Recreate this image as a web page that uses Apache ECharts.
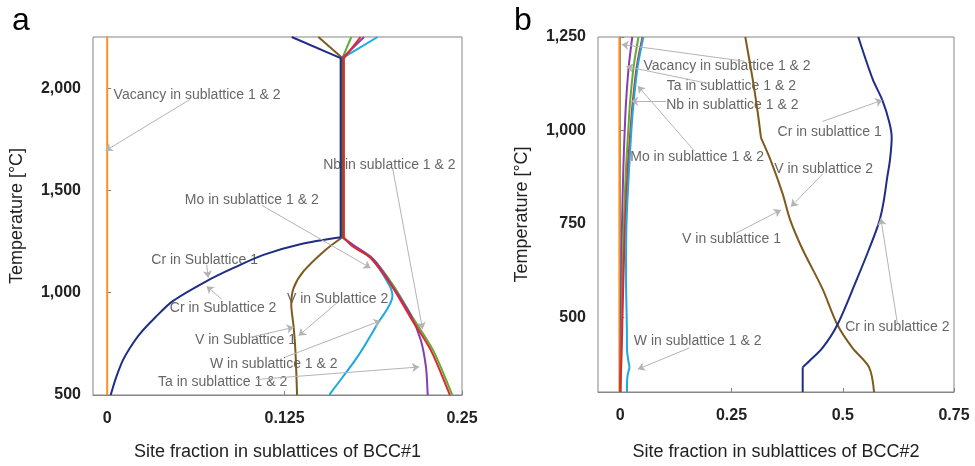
<!DOCTYPE html>
<html>
<head>
<meta charset="utf-8">
<script src="https://cdn.jsdelivr.net/npm/echarts@6/dist/echarts.min.js"></script>
<style>
  html, body { margin: 0; padding: 0; background: #fff; }
  #chart { width: 975px; height: 466px; }
</style>
</head>
<body>
<div id="chart"></div>
<script>
// ---- panel a: BCC#1, [site fraction, temperature] ----
const xTicksA = [0, 0.125, 0.25]
const yTicksA = [500, 1000, 1500, 2000]
const vacA = [[0, 500], [0, 2250]]
const crA = [[0.130, 2250], [0.1645, 2147], [0.1645, 1271], [0.136, 1237], [0.1101, 1185], [0.089, 1121], [0.0701, 1057],
  [0.0464, 960], [0.034, 880], [0.0229, 798], [0.016, 730], [0.0110, 669], [0.006, 580], [0.0028, 508], [0.0024, 500]]
const vA = [[0.1488, 2250], [0.1657, 2147], [0.1657, 1271], [0.1526, 1202], [0.1384, 1105], [0.1314, 1024], [0.1297, 943],
  [0.1314, 831], [0.1326, 718], [0.1338, 500]]
const moA = [[0.1785, 2250], [0.1668, 2147], [0.1668, 1271], [0.1729, 1227], [0.1856, 1169], [0.1998, 1040], [0.2139, 877],
  [0.2281, 718], [0.2410, 508], [0.2415, 500]]
const nbA = [[0.172, 2250], [0.1657, 2147], [0.1657, 1271], [0.1740, 1227], [0.1868, 1169], [0.2012, 1040], [0.2154, 877],
  [0.2297, 718], [0.2427, 508], [0.2432, 500]]
const taA = [[0.181, 2250], [0.1657, 2147], [0.1657, 1271], [0.1748, 1227], [0.1880, 1160], [0.2019, 1022], [0.2139, 889],
  [0.2210, 768], [0.2246, 637], [0.2258, 508], [0.2259, 500]]
const wA = [[0.1905, 2250], [0.1657, 2147], [0.1657, 1271], [0.1735, 1227], [0.1860, 1169], [0.1985, 1040], [0.2010, 984],
  [0.1904, 847], [0.1762, 685], [0.1573, 508], [0.1568, 500]]

// ---- panel b: BCC#2 ----
const xTicksB = [0, 0.25, 0.5, 0.75]
const yTicksB = [500, 750, 1000, 1250]
const vacB = [[-0.002, 300], [-0.002, 1250]]
const crB = [[0.535, 1250], [0.567, 1138], [0.589, 1081], [0.605, 1020], [0.610, 980], [0.606, 920], [0.600, 875],
  [0.592, 810], [0.582, 756], [0.559, 682], [0.529, 594], [0.488, 480], [0.4545, 418], [0.425, 383], [0.41, 366], [0.41, 300]]
const vB = [[0.281, 1250], [0.2975, 1138], [0.3087, 1050], [0.3163, 980], [0.3387, 918], [0.3648, 831], [0.382, 760],
  [0.4096, 682], [0.4545, 576], [0.488, 480], [0.5218, 418], [0.5592, 366], [0.5704, 300]]
const taB = [[0.027, 1250], [0.019, 1170], [0.013, 1075], [0.010, 1000], [0.007, 900], [0.004, 750], [0.002, 600], [0.001, 450], [0.0, 300]]
const nbB = [[0.041, 1250], [0.030, 1170], [0.022, 1075], [0.018, 1000], [0.013, 900], [0.008, 750], [0.005, 600], [0.003, 450], [0.001, 300]]
const moB = [[0.050, 1250], [0.037, 1170], [0.028, 1075], [0.023, 1000], [0.017, 900], [0.011, 750], [0.007, 600], [0.004, 450], [0.0, 300]]
const wB = [[0.052, 1250], [0.039, 1170], [0.030, 1075], [0.025, 1000], [0.020, 900], [0.014, 750], [0.013, 600], [0.015, 450],
  [0.015, 418], [0.021, 366], [0.016, 340], [0.015, 300]]

// annotations: label anchor (left/middle), arrow tail, arrow head
const notesA = [
  ['Vacancy in sublattice 1 & 2', [0.0045, 1968], [0.0582, 1944], [-0.0012, 1694]],
  ['Nb in sublattice 1 & 2', [0.1522, 1624], [0.2012, 1605], [0.2222, 822]],
  ['Mo in sublattice 1 & 2', [0.0547, 1452], [0.109, 1427], [0.1856, 1121]],
  ['Cr in Sublattice 1', [0.0311, 1161], [0.0701, 1137], [0.0712, 1073]],
  ['Cr in Sublattice 2', [0.0441, 924], [0.0807, 968], [0.0701, 1032]],
  ['V in Sublattice 2', [0.1267, 968], [0.1621, 952], [0.1349, 790]],
  ['V in Sublattice 1', [0.0618, 766], [0.1007, 782], [0.1314, 831]],
  ['W in sublattice 1 & 2', [0.0724, 653], [0.1255, 685], [0.1927, 863]],
  ['Ta in sublattice 1 & 2', [0.0358, 564], [0.1054, 576], [0.2198, 637]]
]
const notesB = [
  ['Vacancy in sublattice 1 & 2', [0.0523, 1171], [0.279, 1185], [0.003, 1230]],
  ['Ta in sublattice 1 & 2', [0.1045, 1119], [0.2003, 1125], [0.0135, 1171]],
  ['Nb in sublattice 1 & 2', [0.1032, 1067], [0.1032, 1078], [0.0247, 1078]],
  ['Mo in sublattice 1 & 2', [0.0224, 929], [0.1667, 945], [0.0395, 1119]],
  ['Cr in sublattice 1', [0.3535, 995], [0.4545, 1024], [0.589, 1081]],
  ['V in sublattice 2', [0.3461, 896], [0.4545, 883], [0.3836, 796]],
  ['V in sublattice 1', [0.139, 710], [0.2602, 725], [0.3611, 787]],
  ['Cr in sublattice 2', [0.5054, 474], [0.6227, 484], [0.5855, 765]],
  ['W in sublattice 1 & 2', [0.0305, 436], [0.1555, 418], [0.0395, 361]]
]

const C = { vac: '#f7931e', cr: '#1f2d86', v: '#7d5b1c', mo: '#e3262d', nb: '#5cae34', ta: '#8440b0', w: '#1ca9e1' }
const FONT = 'Arial, "Liberation Sans", sans-serif'
const AXIS = '#858585'

// one line per smooth piece; corners = point indexes that must stay sharp
function curve(name, data, color, idx, corners = []) {
  const cuts = [0, ...corners, data.length - 1]
  const out = []
  for (let i = 0; i < cuts.length - 1; i++) {
    out.push({ name, type: 'line', data: data.slice(cuts[i], cuts[i + 1] + 1), xAxisIndex: idx, yAxisIndex: idx,
      showSymbol: false, symbol: 'none', smooth: 0.3, lineStyle: { color, width: 2 }, z: 3, animation: false })
  }
  return out
}
function noteSeries(notes, idx) {
  return [
    { type: 'scatter', xAxisIndex: idx, yAxisIndex: idx, symbolSize: 0, z: 2, animation: false, silent: true,
      data: notes.map(n => ({ name: n[0], value: n[1] })),
      label: { show: true, position: 'right', distance: 0, formatter: '{b}', color: '#404040', fontSize: 14, fontFamily: FONT } },
    { type: 'lines', coordinateSystem: 'cartesian2d', xAxisIndex: idx, yAxisIndex: idx, z: 4, animation: false, silent: true,
      symbol: ['none', 'arrow'], symbolSize: 7,
      lineStyle: { color: '#b4b4b4', width: 1, opacity: 1, curveness: 0 },
      data: notes.map(n => ({ coords: [n[2], n[3]] })) }
  ]
}
function xAxis(idx, min, max, ticks, name, gap) {
  return { type: 'value', gridIndex: idx, min, max, name, nameLocation: 'middle', nameGap: gap,
    nameTextStyle: { fontSize: 18, color: '#222', fontFamily: FONT },
    axisLine: { lineStyle: { color: AXIS } },
    axisTick: { inside: true, length: 4, lineStyle: { color: AXIS }, customValues: ticks },
    axisLabel: { customValues: ticks, margin: 16, fontSize: 16, fontWeight: 'bold', color: '#222', fontFamily: FONT },
    splitLine: { show: false } }
}
function yAxis(idx, min, max, ticks) {
  return { type: 'value', gridIndex: idx, min, max, name: 'Temperature [°C]', nameLocation: 'middle', nameGap: 67,
    nameTextStyle: { fontSize: 18, color: '#222', fontFamily: FONT },
    axisLine: { show: true, lineStyle: { color: AXIS } },
    axisTick: { show: true, inside: true, length: 4, lineStyle: { color: AXIS }, customValues: ticks },
    axisLabel: { customValues: ticks, margin: 12, fontSize: 16, fontWeight: 'bold', color: '#222', fontFamily: FONT,
      formatter: v => v.toLocaleString('en-US') },
    splitLine: { show: false } }
}

const J = [1, 2] // junction points in panel a
const chart = echarts.init(document.getElementById('chart'), null, { renderer: 'canvas' })
chart.setOption({
  backgroundColor: '#fff',
  animation: false,
  title: [
    { text: 'a', left: 7, top: 0, textStyle: { fontSize: 32, fontWeight: 'normal', color: '#000', fontFamily: FONT } },
    { text: 'b', left: 509, top: 0, textStyle: { fontSize: 32, fontWeight: 'normal', color: '#000', fontFamily: FONT } }
  ],
  grid: [
    { left: 93, top: 37, width: 369, height: 361, show: true, borderColor: AXIS, borderWidth: 1 },
    { left: 598, top: 37, width: 356, height: 361, show: true, borderColor: AXIS, borderWidth: 1 }
  ],
  xAxis: [
    xAxis(0, -0.01, 0.25, xTicksA, 'Site fraction in sublattices of BCC#1', 48),
    xAxis(1, -0.05, 0.75, xTicksB, 'Site fraction in sublattices of BCC#2', 51)
  ],
  yAxis: [yAxis(0, 500, 2250, yTicksA), yAxis(1, 300, 1250, yTicksB)],
  series: [
    ...curve('W', wA, C.w, 0, J), ...curve('Nb', nbA, C.nb, 0, J), ...curve('Ta', taA, C.ta, 0, J),
    ...curve('Mo', moA, C.mo, 0, J), ...curve('V', vA, C.v, 0, J), ...curve('Cr', crA, C.cr, 0, J),
    ...curve('Vacancy', vacA, C.vac, 0),
    ...curve('Vacancy', vacB, C.vac, 1), ...curve('Ta', taB, C.ta, 1), ...curve('Nb', nbB, C.nb, 1),
    ...curve('Mo', moB, C.mo, 1), ...curve('W', wB, C.w, 1, [9]), ...curve('V', vB, C.v, 1, [3]),
    ...curve('Cr', crB, C.cr, 1, [14]),
    ...noteSeries(notesA, 0), ...noteSeries(notesB, 1)
  ]
})
window.addEventListener('resize', () => chart.resize())
</script>
</body>
</html>
